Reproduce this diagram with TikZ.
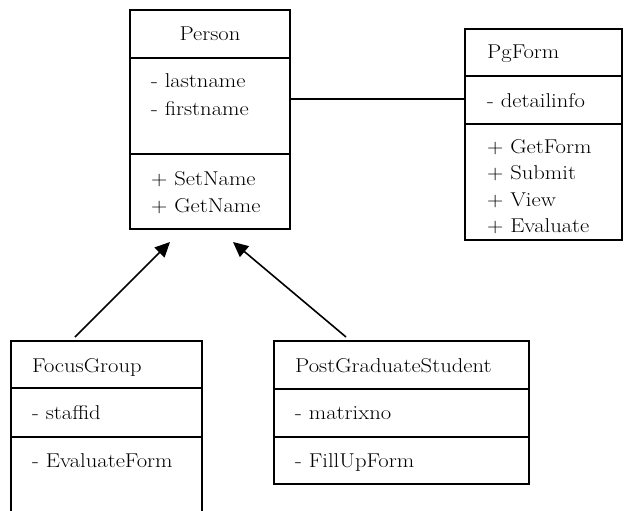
\documentclass[tikz,border=0pt]{standalone}
\usepackage{fontspec}
\setmainfont{Latin Modern Roman}[FakeStretch=1.13]
\usetikzlibrary{arrows.meta}
\begin{document}
\begin{tikzpicture}[x=1pt,y=-1pt,
  box/.style={draw,line width=1.6pt,inner sep=0pt,outer sep=0pt,anchor=north west},
  txt/.style={anchor=base west,inner sep=0pt,font=\fontsize{20}{24}\selectfont},
  ctxt/.style={anchor=base,inner sep=0pt,font=\fontsize{20}{24}\selectfont},
  link/.style={line width=1.6pt},
  gen/.style={line width=1.6pt,-{Triangle[length=15pt,width=14pt]}}]
\useasboundingbox (0,0) rectangle (624,511);

% Person class
\node[box,minimum width=160pt,minimum height=48pt] (pA) at (130,10) {};
\node[box,minimum width=160pt,minimum height=96pt] (pB) at (130,58) {};
\node[box,minimum width=160pt,minimum height=75pt] (pC) at (130,154) {};
\node[ctxt] (pN) at (210,41) {Person};
\node[txt] (p1) at (151,88) {- lastname};
\node[txt] (p2) at (151,115) {- firstname};
\node[txt] (p3) at (151,185) {+ SetName};
\node[txt] (p4) at (151,212) {+ GetName};

% PgForm class
\node[box,minimum width=157pt,minimum height=47pt] (fA) at (465,29) {};
\node[box,minimum width=157pt,minimum height=48pt] (fB) at (465,76) {};
\node[box,minimum width=157pt,minimum height=116pt] (fC) at (465,124) {};
\node[txt] (fN) at (487,59) {PgForm};
\node[txt] (f1) at (487,107) {- detailinfo};
\node[txt] (f2) at (487,153) {+ GetForm};
\node[txt] (f3) at (487,179) {+ Submit};
\node[txt] (f4) at (487,206) {+ View};
\node[txt] (f5) at (487,232) {+ Evaluate};

% FocusGroup class (runs past the lower edge)
\node[box,minimum width=191pt,minimum height=47pt] (gA) at (11,341) {};
\node[box,minimum width=191pt,minimum height=49pt] (gB) at (11,388) {};
\coordinate (gL) at (11,515);
\coordinate (gR) at (202,515);
\draw[link] (gB.south west) -- (gL) (gB.south east) -- (gR);
\node[txt] (gN) at (32,372) {FocusGroup};
\node[txt] (g1) at (32,419) {- staffid};
\node[txt] (g2) at (32,467) {- EvaluateForm};

% PostGraduateStudent class
\node[box,minimum width=255pt,minimum height=48pt] (sA) at (274,341) {};
\node[box,minimum width=255pt,minimum height=48pt] (sB) at (274,389) {};
\node[box,minimum width=255pt,minimum height=47pt] (sC) at (274,437) {};
\node[txt] (sN) at (295,372) {PostGraduateStudent};
\node[txt] (s1) at (295,419) {- matrixno};
\node[txt] (s2) at (295,467) {- FillUpForm};

% association and generalisations
\draw[link] (pB.east |- 0,99) -- (fB.west |- 0,99);
\coordinate (t1) at (170,242);
\coordinate (t2) at (233,242);
\draw[gen] (gA.north west) ++(64,-4) -- (t1);
\draw[gen] (sA.north west) ++(72,-4) -- (t2);
\end{tikzpicture}
\end{document}
